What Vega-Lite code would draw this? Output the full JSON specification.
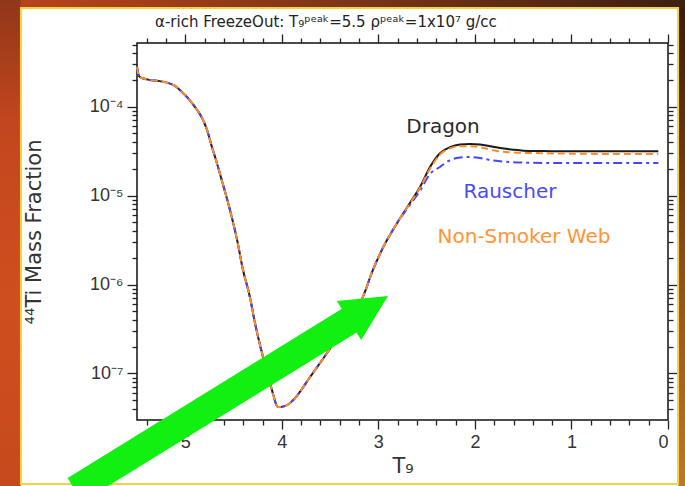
{
  "$schema": "https://vega.github.io/schema/vega-lite/v6.json",
  "autosize": {"type": "none"},
  "width": 531,
  "height": 377,
  "padding": {"left": 137, "top": 43, "right": 17, "bottom": 66},
  "background": "white",
  "title": {
    "text": "α-rich FreezeOut: T₉ᵖᵉᵃᵏ=5.5  ρᵖᵉᵃᵏ=1x10⁷ g/cc",
    "anchor": "start",
    "frame": "group",
    "dx": 18,
    "offset": -37,
    "font": "DejaVu Sans",
    "fontSize": 15,
    "fontWeight": "normal",
    "color": "#222"
  },
  "datasets": {
    "ti44": [
      {"T": 5.5, "Dragon": 2.8e-4, "Rauscher": 2.8e-4, "NonSmoker": 2.8e-4},
      {"T": 5.479, "Dragon": 2.2e-4, "Rauscher": 2.2e-4, "NonSmoker": 2.2e-4},
      {"T": 5.448, "Dragon": 2.1e-4, "Rauscher": 2.1e-4, "NonSmoker": 2.1e-4},
      {"T": 5.365, "Dragon": 2.0e-4, "Rauscher": 2.0e-4, "NonSmoker": 2.0e-4},
      {"T": 5.282, "Dragon": 1.95e-4, "Rauscher": 1.95e-4, "NonSmoker": 1.95e-4},
      {"T": 5.179, "Dragon": 1.85e-4, "Rauscher": 1.85e-4, "NonSmoker": 1.85e-4},
      {"T": 5.106, "Dragon": 1.71e-4, "Rauscher": 1.71e-4, "NonSmoker": 1.71e-4},
      {"T": 5.034, "Dragon": 1.46e-4, "Rauscher": 1.46e-4, "NonSmoker": 1.46e-4},
      {"T": 4.972, "Dragon": 1.25e-4, "Rauscher": 1.25e-4, "NonSmoker": 1.25e-4},
      {"T": 4.899, "Dragon": 9.9e-5, "Rauscher": 9.9e-5, "NonSmoker": 9.9e-5},
      {"T": 4.827, "Dragon": 7.5e-5, "Rauscher": 7.5e-5, "NonSmoker": 7.5e-5},
      {"T": 4.775, "Dragon": 5.5e-5, "Rauscher": 5.5e-5, "NonSmoker": 5.5e-5},
      {"T": 4.723, "Dragon": 3.5e-5, "Rauscher": 3.5e-5, "NonSmoker": 3.5e-5},
      {"T": 4.671, "Dragon": 2.3e-5, "Rauscher": 2.3e-5, "NonSmoker": 2.3e-5},
      {"T": 4.63, "Dragon": 1.6e-5, "Rauscher": 1.6e-5, "NonSmoker": 1.6e-5},
      {"T": 4.537, "Dragon": 6.9e-6, "Rauscher": 6.9e-6, "NonSmoker": 6.9e-6},
      {"T": 4.464, "Dragon": 3.2e-6, "Rauscher": 3.2e-6, "NonSmoker": 3.2e-6},
      {"T": 4.402, "Dragon": 1.46e-6, "Rauscher": 1.46e-6, "NonSmoker": 1.46e-6},
      {"T": 4.33, "Dragon": 7.2e-7, "Rauscher": 7.2e-7, "NonSmoker": 7.2e-7},
      {"T": 4.278, "Dragon": 3.7e-7, "Rauscher": 3.7e-7, "NonSmoker": 3.7e-7},
      {"T": 4.195, "Dragon": 1.53e-7, "Rauscher": 1.53e-7, "NonSmoker": 1.53e-7},
      {"T": 4.102, "Dragon": 6.5e-8, "Rauscher": 6.5e-8, "NonSmoker": 6.5e-8},
      {"T": 4.04, "Dragon": 4.2e-8, "Rauscher": 4.2e-8, "NonSmoker": 4.2e-8},
      {"T": 3.967, "Dragon": 4.3e-8, "Rauscher": 4.3e-8, "NonSmoker": 4.3e-8},
      {"T": 3.884, "Dragon": 5.0e-8, "Rauscher": 5.0e-8, "NonSmoker": 5.0e-8},
      {"T": 3.708, "Dragon": 9.1e-8, "Rauscher": 9.1e-8, "NonSmoker": 9.1e-8},
      {"T": 3.532, "Dragon": 1.7e-7, "Rauscher": 1.7e-7, "NonSmoker": 1.7e-7},
      {"T": 3.397, "Dragon": 2.85e-7, "Rauscher": 2.85e-7, "NonSmoker": 2.85e-7},
      {"T": 3.159, "Dragon": 7.3e-7, "Rauscher": 7.3e-7, "NonSmoker": 7.3e-7},
      {"T": 3.056, "Dragon": 1.46e-6, "Rauscher": 1.46e-6, "NonSmoker": 1.46e-6},
      {"T": 2.952, "Dragon": 2.6e-6, "Rauscher": 2.6e-6, "NonSmoker": 2.6e-6},
      {"T": 2.807, "Dragon": 4.9e-6, "Rauscher": 4.9e-6, "NonSmoker": 4.9e-6},
      {"T": 2.672, "Dragon": 8.3e-6, "Rauscher": 7.9e-6, "NonSmoker": 8.2e-6},
      {"T": 2.569, "Dragon": 1.25e-5, "Rauscher": 1.13e-5, "NonSmoker": 1.22e-5},
      {"T": 2.465, "Dragon": 2.1e-5, "Rauscher": 1.75e-5, "NonSmoker": 2.0e-5},
      {"T": 2.362, "Dragon": 3.0e-5, "Rauscher": 2.1e-5, "NonSmoker": 2.9e-5},
      {"T": 2.258, "Dragon": 3.5e-5, "Rauscher": 2.5e-5, "NonSmoker": 3.4e-5},
      {"T": 2.154, "Dragon": 3.75e-5, "Rauscher": 2.68e-5, "NonSmoker": 3.6e-5},
      {"T": 2.05, "Dragon": 3.8e-5, "Rauscher": 2.72e-5, "NonSmoker": 3.6e-5},
      {"T": 1.947, "Dragon": 3.75e-5, "Rauscher": 2.65e-5, "NonSmoker": 3.5e-5},
      {"T": 1.844, "Dragon": 3.6e-5, "Rauscher": 2.51e-5, "NonSmoker": 3.3e-5},
      {"T": 1.74, "Dragon": 3.43e-5, "Rauscher": 2.43e-5, "NonSmoker": 3.15e-5},
      {"T": 1.62, "Dragon": 3.3e-5, "Rauscher": 2.38e-5, "NonSmoker": 3.07e-5},
      {"T": 1.5, "Dragon": 3.2e-5, "Rauscher": 2.35e-5, "NonSmoker": 3.02e-5},
      {"T": 1.3, "Dragon": 3.17e-5, "Rauscher": 2.33e-5, "NonSmoker": 3.0e-5},
      {"T": 1.0, "Dragon": 3.15e-5, "Rauscher": 2.32e-5, "NonSmoker": 2.96e-5},
      {"T": 0.5, "Dragon": 3.15e-5, "Rauscher": 2.32e-5, "NonSmoker": 2.94e-5},
      {"T": 0.1, "Dragon": 3.15e-5, "Rauscher": 2.32e-5, "NonSmoker": 2.93e-5}
    ],
    "labels": [
      {"label": "Dragon", "T": 2.33, "X": 5.9e-5},
      {"label": "Rauscher", "T": 1.637, "X": 1.1e-5},
      {"label": "Non-Smoker Web", "T": 1.492, "X": 3.43e-6}
    ],
    "one": [{}]
  },
  "resolve": {"axis": {"x": "independent", "y": "independent"}},
  "layer": [
    {
      "data": {"name": "one"},
      "mark": {"type": "rect", "color": {"gradient": "linear", "x1": 0, "y1": 0, "x2": 0, "y2": 1,
        "stops": [{"offset": 0, "color": "#8e3519"}, {"offset": 0.25, "color": "#c2461e"}, {"offset": 0.6, "color": "#cf4e1f"}, {"offset": 1, "color": "#c5491d"}]}},
      "encoding": {
        "x": {"datum": 7.02, "type": "quantitative", "axis": null},
        "x2": {"datum": 6.702},
        "y": {"datum": 1.903e-3, "type": "quantitative", "axis": null},
        "y2": {"datum": 3.78e-9}
      }
    },
    {
      "data": {"name": "one"},
      "mark": {"type": "rect", "color": {"gradient": "linear", "x1": 0, "y1": 0, "x2": 1, "y2": 0,
        "stops": [{"offset": 0, "color": "#b8441c"}, {"offset": 0.5, "color": "#7a3416"}, {"offset": 1, "color": "#3c1e0e"}]}},
      "encoding": {
        "x": {"datum": 6.702, "type": "quantitative", "axis": null},
        "x2": {"datum": -0.331},
        "y": {"datum": 1.903e-3, "type": "quantitative", "axis": null},
        "y2": {"datum": 1.29e-3}
      }
    },
    {
      "data": {"name": "one"},
      "mark": {"type": "rect", "color": {"gradient": "linear", "x1": 0, "y1": 0, "x2": 0, "y2": 1,
        "stops": [{"offset": 0, "color": "#3a1c0c"}, {"offset": 0.5, "color": "#8a4a1e"}, {"offset": 1, "color": "#c07a30"}]}},
      "encoding": {
        "x": {"datum": -0.104, "type": "quantitative", "axis": null},
        "x2": {"datum": -0.331},
        "y": {"datum": 1.29e-3, "type": "quantitative", "axis": null},
        "y2": {"datum": 3.78e-9}
      }
    },
    {
      "data": {"name": "one"},
      "mark": {"type": "rect", "fill": null, "fillOpacity": 0, "stroke": "#f2d43a", "strokeWidth": 2},
      "encoding": {
        "x": {"datum": 6.702, "type": "quantitative", "axis": null},
        "x2": {"datum": -0.104},
        "y": {"datum": 1.29e-3, "type": "quantitative", "axis": null},
        "y2": {"datum": 5.73e-9}
      }
    },
    {
      "data": {"name": "ti44"},
      "mark": {"type": "line", "color": "#1a1a1a", "strokeWidth": 2, "interpolate": "monotone"},
      "encoding": {
        "x": {"field": "T", "type": "quantitative",
          "scale": {"domain": [0, 5.5], "reverse": true, "nice": false, "zero": false},
          "axis": {"orient": "bottom", "values": [0, 1, 2, 3, 4, 5], "tickSize": 9, "labelPadding": 4, "labelFontSize": 18, "format": "d", "title": "T₉", "titlePadding": 4, "titleFontSize": 21}},
        "y": {"field": "Dragon", "type": "quantitative",
          "scale": {"type": "log", "domain": [3e-8, 5.2e-4], "nice": false},
          "axis": {"orient": "left", "values": [1e-7, 1e-6, 1e-5, 1e-4], "tickSize": 10, "labelPadding": 4, "labelFontSize": 18,
            "labelExpr": "'10' + (round(log(datum.value)/LN10) == -4 ? '⁻⁴' : round(log(datum.value)/LN10) == -5 ? '⁻⁵' : round(log(datum.value)/LN10) == -6 ? '⁻⁶' : '⁻⁷')",
            "title": "⁴⁴Ti Mass Fraction", "titlePadding": 45, "titleFontSize": 21}}
      }
    },
    {
      "data": {"name": "ti44"},
      "mark": {"type": "line", "color": "#4646ff", "strokeWidth": 2, "strokeDash": [9, 4, 3, 4], "interpolate": "monotone"},
      "encoding": {
        "x": {"field": "T", "type": "quantitative",
          "axis": {"orient": "bottom", "values": [0.2, 0.4, 0.6, 0.8, 1.2, 1.4, 1.6, 1.8, 2.2, 2.4, 2.6, 2.8, 3.2, 3.4, 3.6, 3.8, 4.2, 4.4, 4.6, 4.8, 5.2, 5.4], "tickSize": 5, "labels": false, "title": null}},
        "y": {"field": "Rauscher", "type": "quantitative",
          "axis": {"orient": "left", "values": [4e-8, 5e-8, 6e-8, 7e-8, 8e-8, 9e-8, 2e-7, 3e-7, 4e-7, 5e-7, 6e-7, 7e-7, 8e-7, 9e-7, 2e-6, 3e-6, 4e-6, 5e-6, 6e-6, 7e-6, 8e-6, 9e-6, 2e-5, 3e-5, 4e-5, 5e-5, 6e-5, 7e-5, 8e-5, 9e-5, 2e-4, 3e-4, 4e-4, 5e-4], "tickSize": 5, "labels": false, "title": null}}
      }
    },
    {
      "data": {"name": "ti44"},
      "mark": {"type": "line", "color": "#ff8c28", "strokeWidth": 2, "strokeDash": [7, 4], "interpolate": "monotone"},
      "encoding": {
        "x": {"field": "T", "type": "quantitative",
          "axis": {"orient": "top", "values": [0, 1, 2, 3, 4, 5], "tickSize": 9, "labels": false, "title": null}},
        "y": {"field": "NonSmoker", "type": "quantitative",
          "axis": {"orient": "right", "values": [1e-7, 1e-6, 1e-5, 1e-4], "tickSize": 10, "labels": false, "title": null}}
      }
    },
    {
      "data": {"name": "labels"},
      "mark": {"type": "text", "font": "DejaVu Sans", "fontSize": 20, "align": "center", "baseline": "middle"},
      "encoding": {
        "x": {"field": "T", "type": "quantitative",
          "axis": {"orient": "top", "values": [0.2, 0.4, 0.6, 0.8, 1.2, 1.4, 1.6, 1.8, 2.2, 2.4, 2.6, 2.8, 3.2, 3.4, 3.6, 3.8, 4.2, 4.4, 4.6, 4.8, 5.2, 5.4], "tickSize": 5, "labels": false, "title": null}},
        "y": {"field": "X", "type": "quantitative",
          "axis": {"orient": "right", "values": [4e-8, 5e-8, 6e-8, 7e-8, 8e-8, 9e-8, 2e-7, 3e-7, 4e-7, 5e-7, 6e-7, 7e-7, 8e-7, 9e-7, 2e-6, 3e-6, 4e-6, 5e-6, 6e-6, 7e-6, 8e-6, 9e-6, 2e-5, 3e-5, 4e-5, 5e-5, 6e-5, 7e-5, 8e-5, 9e-5, 2e-4, 3e-4, 4e-4, 5e-4], "tickSize": 5, "labels": false, "title": null}},
        "text": {"field": "label"},
        "color": {"field": "label", "type": "nominal", "legend": null,
          "scale": {"domain": ["Dragon", "Rauscher", "Non-Smoker Web"], "range": ["#2a2a2a", "#4a4aff", "#ff9435"]}}
      }
    },
    {
      "data": {"name": "one"},
      "mark": {"type": "rule", "color": "#11f011", "strokeWidth": 28, "strokeCap": "butt"},
      "encoding": {
        "x": {"datum": 6.142, "type": "quantitative", "axis": null},
        "x2": {"datum": 3.242},
        "y": {"datum": 4.9e-9, "type": "quantitative", "axis": null},
        "y2": {"datum": 4.31e-7}
      }
    },
    {
      "data": {"name": "one"},
      "mark": {"type": "point", "shape": "M 0 0 L -2 -1 L -2 1 Z", "size": 2116, "angle": 328, "filled": true, "opacity": 1, "color": "#11f011", "strokeWidth": 0},
      "encoding": {
        "x": {"datum": 2.9, "type": "quantitative", "axis": null},
        "y": {"datum": 7.43e-7, "type": "quantitative", "axis": null}
      }
    }
  ],
  "config": {
    "axis": {
      "domain": false, "grid": false, "tickColor": "#222", "tickWidth": 1.3,
      "labelFont": "Liberation Sans", "labelFontSize": 17, "labelColor": "#333",
      "titleFont": "DejaVu Sans", "titleFontWeight": "normal", "titleFontSize": 19, "titleColor": "#333"
    },
    "view": {"stroke": "#111", "strokeWidth": 1.5}
  }
}
